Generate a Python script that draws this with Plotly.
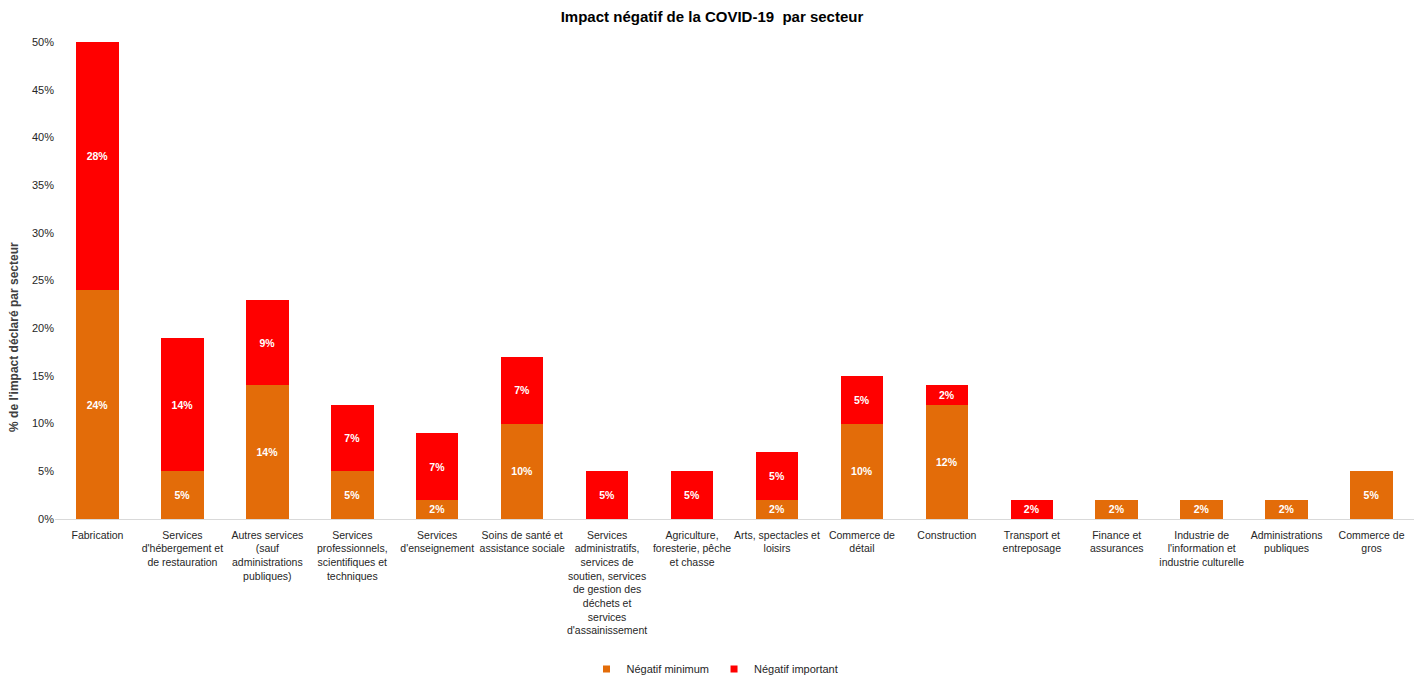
import plotly.graph_objects as go

categories = [
    "Fabrication",
    "Services<br>d'hébergement et<br>de restauration",
    "Autres services<br>(sauf<br>administrations<br>publiques)",
    "Services<br>professionnels,<br>scientifiques et<br>techniques",
    "Services<br>d'enseignement",
    "Soins de santé et<br>assistance sociale",
    "Services<br>administratifs,<br>services de<br>soutien, services<br>de gestion des<br>déchets et<br>services<br>d'assainissement",
    "Agriculture,<br>foresterie, pêche<br>et chasse",
    "Arts, spectacles et<br>loisirs",
    "Commerce de<br>détail",
    "Construction",
    "Transport et<br>entreposage",
    "Finance et<br>assurances",
    "Industrie de<br>l'information et<br>industrie culturelle",
    "Administrations<br>publiques",
    "Commerce de<br>gros",
]
negatif_minimum = [24, 5, 14, 5, 2, 10, 0, 0, 2, 10, 12, 0, 2, 2, 2, 5]
negatif_important = [28, 14, 9, 7, 7, 7, 5, 5, 5, 5, 2, 2, 0, 0, 0, 0]
yticks = [0, 5, 10, 15, 20, 25, 30, 35, 40, 45, 50]
series_names = ["Négatif minimum", "Négatif important"]
series_colors = ["#E36C09", "#FF0000"]

FONT = "Liberation Sans, Arial"
TXT = "#262626"

def labels(vals):
    return [f"{v}%" if v else "" for v in vals]

fig = go.Figure()
for name, vals, color in zip(series_names, [negatif_minimum, negatif_important], series_colors):
    fig.add_trace(go.Bar(
        x=categories, y=vals, name=name, showlegend=False,
        marker=dict(color=color, line=dict(width=0)),
        text=labels(vals), textposition="inside", insidetextanchor="middle",
        textangle=0, textfont=dict(color="white", size=10.5, family=FONT, weight="bold"),
        hoverinfo="skip",
    ))
# legend entries with small square swatches
for name, color in zip(series_names, series_colors):
    fig.add_trace(go.Scatter(
        x=[None], y=[None], mode="markers", name=name,
        marker=dict(symbol="square", size=7, color=color), hoverinfo="skip",
    ))

fig.add_annotation(
    text="<b>% de l'impact déclaré par secteur</b>", textangle=-90,
    xref="paper", yref="paper", x=-0.0302, y=0.3816, xanchor="center", yanchor="middle",
    showarrow=False, font=dict(family=FONT, size=12, color="#404040"),
)

fig.update_layout(
    barmode="stack",
    bargap=0.5,
    width=1424, height=681,
    margin=dict(l=55, r=10, t=42, b=162, autoexpand=False),
    paper_bgcolor="white", plot_bgcolor="white",
    title=dict(text="<b>Impact négatif de la COVID-19  par secteur</b>", x=0.5, xanchor="center",
               y=1 - 17 / 681, yanchor="middle",
               font=dict(family=FONT, size=15, color="#000000")),
    font=dict(family=FONT, size=10.5, color=TXT),
    showlegend=True,
    legend=dict(orientation="h", x=(715 - 55) / 1359, xanchor="center", yref="container",
                y=(681 - 669) / 681, yanchor="middle",
                font=dict(family=FONT, size=11, color=TXT),
                itemwidth=30, traceorder="normal", tracegroupgap=0),
    xaxis=dict(showgrid=False, showline=True, linecolor="#D9D9D9", linewidth=1, automargin=False,
               ticks="outside", ticklen=6, tickcolor="rgba(0,0,0,0)", tickangle=0,
               tickfont=dict(family=FONT, size=10.5, color=TXT)),
    yaxis=dict(range=[0, 50], tickvals=yticks, ticktext=[f"{v}%" for v in yticks],
               showgrid=False, zeroline=False, showline=False, ticks="", automargin=False,
               tickfont=dict(family=FONT, size=11, color=TXT)),
)

fig.write_html("out.html")
